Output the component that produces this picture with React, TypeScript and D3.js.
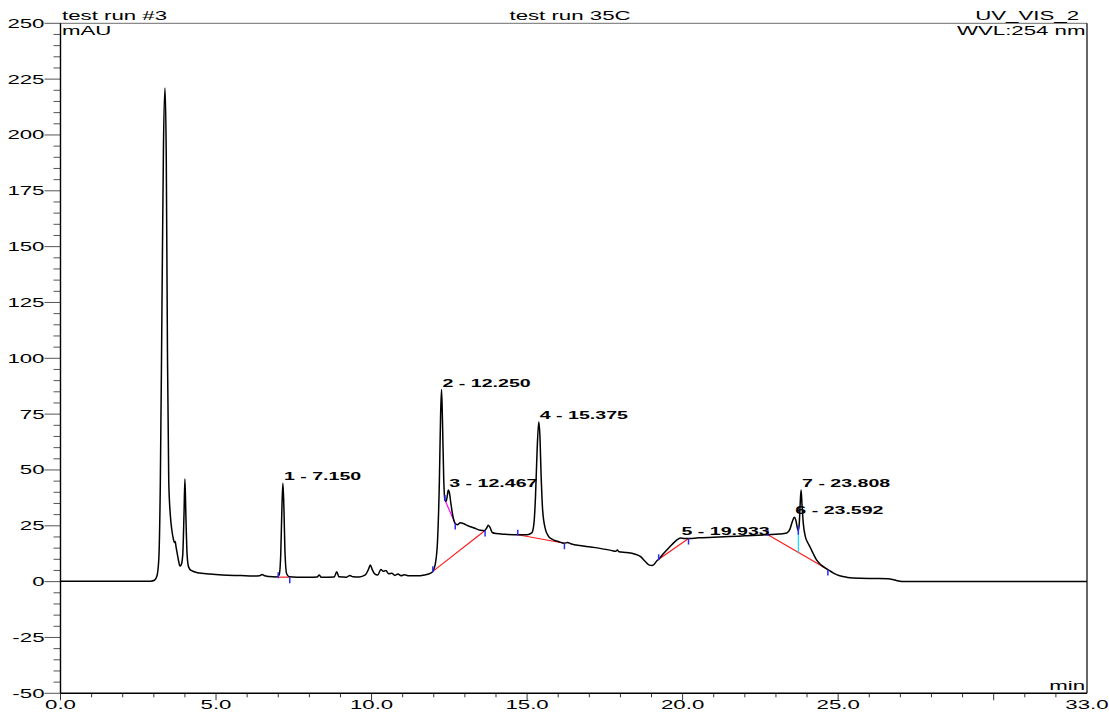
import React from 'react';
import * as d3 from 'd3';

// Chromatogram trace: retention time (min) and absorbance (mAU)
const TIME = [
  0, 1, 2, 2.9, 3.02, 3.1, 3.16, 3.21, 3.26, 3.31, 3.36, 3.4, 3.44, 3.48, 3.53, 3.58, 3.63, 3.67, 3.69, 3.71,
  3.76, 3.8, 3.84, 3.88, 3.93, 3.97, 4.0, 4.03, 4.07, 4.12, 4.2, 4.4, 4.8, 5.2, 5.8, 6.2, 6.4, 6.48, 6.56, 6.7,
  6.95, 7.03, 7.08, 7.12, 7.15, 7.18, 7.22, 7.27, 7.35, 7.6, 8.0, 8.25, 8.32, 8.38, 8.8, 8.88, 8.95, 9.2, 9.3, 9.4,
  9.6, 9.8, 9.9, 9.96, 10.02, 10.1, 10.2, 10.3, 10.38, 10.46, 10.55, 10.65, 10.75, 10.85, 10.95, 11.05, 11.2, 11.45, 11.7, 11.9,
  11.97, 12.05, 12.12, 12.18, 12.22, 12.25, 12.28, 12.32, 12.36, 12.4, 12.44, 12.467, 12.5, 12.55, 12.62, 12.69, 12.76, 12.85, 12.95, 13.1,
  13.3, 13.5, 13.62, 13.7, 13.75, 13.8, 13.88, 14.0, 14.3, 14.7, 15.0, 15.15, 15.22, 15.27, 15.32, 15.375, 15.41, 15.45, 15.5, 15.58,
  15.68, 15.8, 16.0, 16.2, 16.3, 16.4, 16.8, 17.3, 17.7, 17.85, 17.9, 17.95, 18.2, 18.45, 18.65, 18.8, 18.93, 19.02, 19.1, 19.18,
  19.23, 19.35, 19.5, 19.65, 19.8, 19.933, 20.05, 20.19, 20.5, 21.0, 21.5, 22.0, 22.74, 23.1, 23.35, 23.45, 23.53, 23.592, 23.64, 23.69,
  23.72, 23.75, 23.78, 23.808, 23.84, 23.88, 23.94, 24.02, 24.1, 24.2, 24.31, 24.45, 24.67, 24.85, 25.05, 25.3, 25.7, 26.2, 26.6, 26.75,
  26.9, 27.05, 28, 33,
];
const MAU = [
  0.2, 0.2, 0.2, 0.2, 0.6, 2.5, 10, 45, 120, 195, 221, 190, 100, 45, 30, 23, 19, 17.5, 18, 16,
  12, 9, 7, 7.5, 12, 30, 46, 30, 12, 6.5, 5, 4, 3.4, 3, 2.7, 2.5, 2.6, 3.2, 2.6, 2.3,
  2.1, 3, 12, 34, 44, 34, 12, 3.5, 2.2, 2.0, 2.0, 2.1, 3.0, 2.0, 2.1, 4.4, 2.2, 2.0, 2.8, 2.2,
  2.1, 3, 5.5, 7.5, 5.5, 3.5, 3, 5.4, 4.6, 5, 3.5, 3.8, 2.8, 3.4, 2.6, 3.1, 2.6, 2.6, 3.0, 3.8,
  4.6, 8, 18, 45, 75, 86, 72, 46, 36.5, 36, 39, 41, 40, 35, 29, 26, 25.5, 26.4, 26, 25,
  24, 23, 22.8, 24, 25.2, 24.5, 22, 21.5, 21.2, 21, 21, 21.8, 26, 38, 58, 71.5, 66, 48, 32, 24,
  20.5, 19, 18, 17.2, 17.5, 17, 16, 15, 14, 13.6, 14.2, 13.4, 13, 12.4, 11.2, 9, 7.4, 7.2, 8, 9.5,
  10, 12, 14.3, 16.5, 18.5, 19.5, 19.3, 19.3, 19.6, 19.9, 20.2, 20.5, 21, 21.3, 21.8, 23.5, 27, 28.8, 27.5, 24,
  22.8, 26, 35, 41, 34, 26, 20.5, 17.5, 15.4, 12.5, 9.6, 7.5, 5.4, 3.8, 2.6, 1.9, 1.5, 1.4, 1.3, 1.0,
  0.4, 0.1, 0.1, 0.1,
];

// Integrated peaks
const PEAK_NO = [1, 2, 3, 4, 5, 6, 7];
const PEAK_RT = [7.15, 12.25, 12.467, 15.375, 19.933, 23.592, 23.808];
const PEAK_HEIGHT = [44, 86, 41, 71.5, 19.5, 28.8, 41];

// Integration baselines (start / end point of each), and their type
const BASE_T0 = [7.0, 11.97, 12.36, 14.7, 19.23, 22.74];
const BASE_V0 = [2.0, 4.6, 36.5, 21, 10, 21];
const BASE_T1 = [7.37, 13.65, 12.69, 16.2, 20.19, 24.67];
const BASE_V1 = [2.0, 22.9, 26, 17.2, 19.3, 5.4];
const BASE_KIND = ['valley', 'valley', 'skim', 'valley', 'valley', 'valley'];

// Perpendicular drop between peaks 6 and 7
const DROP_T = [23.72];
const DROP_TOP = [22.8];
const DROP_BOTTOM = [13.1];

// Axis ticks
const X_LABELS = [0, 5, 10, 15, 20, 25, 33];
const X_MAJOR = [0, 5, 10, 15, 20, 25, 30];
const Y_LABELS = [-50, -25, 0, 25, 50, 75, 100, 125, 150, 175, 200, 225, 250];

const W = 1109;
const H = 715;
const SX = 1.78; // horizontal stretch of the lettering
const FONT = '"Liberation Sans", Arial, Helvetica, sans-serif';
const KIND_COLOR: Record<string, string> = { valley: '#ff1a1a', skim: '#ff00ff' };
const TICK_BLUE = '#2a2aff';

function Txt(props: { x: number; y: number; anchor?: string; size?: number; bold?: boolean; children: React.ReactNode }) {
  const { x, y, anchor = 'start', size = 12.5, bold = false, children } = props;
  return (
    <text
      transform={`translate(${x},${y}) scale(${SX},1)`}
      textAnchor={anchor as any}
      fontSize={size}
      fontWeight={bold ? 'bold' : 'normal'}
      fontFamily={FONT}
      fill="#000"
    >
      {children}
    </text>
  );
}

export default function App() {
  const x = d3.scaleLinear().domain([0, 33]).range([60.5, 1087]);
  const y = d3.scaleLinear().domain([-50, 250]).range([693.3, 23.3]);

  const pts: [number, number][] = TIME.map((t, i) => [t, MAU[i]]);
  const line = d3
    .line<[number, number]>()
    .x((d) => x(d[0]))
    .y((d) => y(d[1]))
    .curve(d3.curveMonotoneX);

  const left = x(0);
  const right = x(33);
  const top = y(250);
  const bottom = y(-50);

  const xMinor = d3.range(0, 33, 1).filter((v) => !X_MAJOR.includes(v));
  const yMinor = d3.range(-50, 251, 5).filter((v) => v % 25 !== 0);

  return (
    <svg
      width={W}
      height={H}
      style={{ position: 'absolute', left: 0, top: 0, background: '#fff' }}
      viewBox={`0 0 ${W} ${H}`}
    >
      <rect x={0} y={0} width={W} height={H} fill="#fff" />

      {/* frame */}
      <line x1={left} x2={right} y1={top} y2={top} stroke="#8a8a8a" strokeWidth={1.2} />
      <line x1={right} x2={right} y1={top} y2={bottom} stroke="#000" strokeWidth={1.2} />

      {/* y axis */}
      {yMinor.map((v) => (
        <line key={'ym' + v} x1={left - 7} x2={left} y1={y(v)} y2={y(v)} stroke="#555" strokeWidth={1} />
      ))}
      {Y_LABELS.map((v) => (
        <g key={'yl' + v}>
          <line x1={left - 16} x2={left} y1={y(v)} y2={y(v)} stroke="#555" strokeWidth={1} />
          <Txt x={left - 16} y={y(v) + 4.5} anchor="end">
            {String(v)}
          </Txt>
        </g>
      ))}
      <line x1={left} x2={left} y1={top} y2={bottom} stroke="#000" strokeWidth={1.4} />

      {/* x axis */}
      {xMinor.map((v) => (
        <line key={'xm' + v} x1={x(v)} x2={x(v)} y1={bottom} y2={bottom + 4} stroke="#333" strokeWidth={1} />
      ))}
      {X_MAJOR.map((v) => (
        <line key={'xM' + v} x1={x(v)} x2={x(v)} y1={bottom} y2={bottom + 7} stroke="#333" strokeWidth={1} />
      ))}
      {X_LABELS.map((v) => (
        <Txt key={'xl' + v} x={x(v)} y={bottom + 16} anchor="middle">
          {v.toFixed(1)}
        </Txt>
      ))}
      <line x1={left} x2={right} y1={bottom} y2={bottom} stroke="#000" strokeWidth={1.4} />

      {/* header and axis units */}
      <Txt x={left + 1.5} y={20}>test run #3</Txt>
      <Txt x={570} y={20} anchor="middle">test run 35C</Txt>
      <Txt x={1079} y={20} anchor="end">UV_VIS_2</Txt>
      <Txt x={left + 1.5} y={35}>mAU</Txt>
      <Txt x={right - 1.5} y={35} anchor="end">WVL:254 nm</Txt>
      <Txt x={right - 2} y={bottom - 3} anchor="end">min</Txt>

      {/* integration baselines */}
      {BASE_T0.map((t0, i) => (
        <line
          key={'b' + i}
          x1={x(t0)}
          y1={y(BASE_V0[i])}
          x2={x(BASE_T1[i])}
          y2={y(BASE_V1[i])}
          stroke={KIND_COLOR[BASE_KIND[i]]}
          strokeWidth={1.2}
        />
      ))}
      {DROP_T.map((t, i) => (
        <line key={'d' + i} x1={x(t)} x2={x(t)} y1={y(DROP_TOP[i])} y2={y(DROP_BOTTOM[i])} stroke="#00e5ff" strokeWidth={1.2} />
      ))}

      {/* chromatogram */}
      <path d={line(pts) || ''} fill="none" stroke="#000" strokeWidth={1.5} strokeLinejoin="round" />

      {/* peak start / end markers */}
      {BASE_T0.map((t0, i) => (
        <g key={'m' + i}>
          <line x1={x(t0)} x2={x(t0)} y1={y(BASE_V0[i]) - 5} y2={y(BASE_V0[i]) + 1} stroke={TICK_BLUE} strokeWidth={1.5} />
          <line x1={x(BASE_T1[i])} x2={x(BASE_T1[i])} y1={y(BASE_V1[i])} y2={y(BASE_V1[i]) + 6} stroke={TICK_BLUE} strokeWidth={1.5} />
        </g>
      ))}
      {DROP_T.map((t, i) => (
        <line key={'dm' + i} x1={x(t)} x2={x(t)} y1={y(DROP_TOP[i]) - 5} y2={y(DROP_TOP[i]) + 4} stroke={TICK_BLUE} strokeWidth={1.5} />
      ))}

      {/* peak labels */}
      {PEAK_RT.map((rt, i) => (
        <Txt key={'p' + i} x={x(rt) + 1} y={y(PEAK_HEIGHT[i]) - 3} size={11} bold>
          {`${PEAK_NO[i]} - ${rt.toFixed(3)}`}
        </Txt>
      ))}
    </svg>
  );
}
